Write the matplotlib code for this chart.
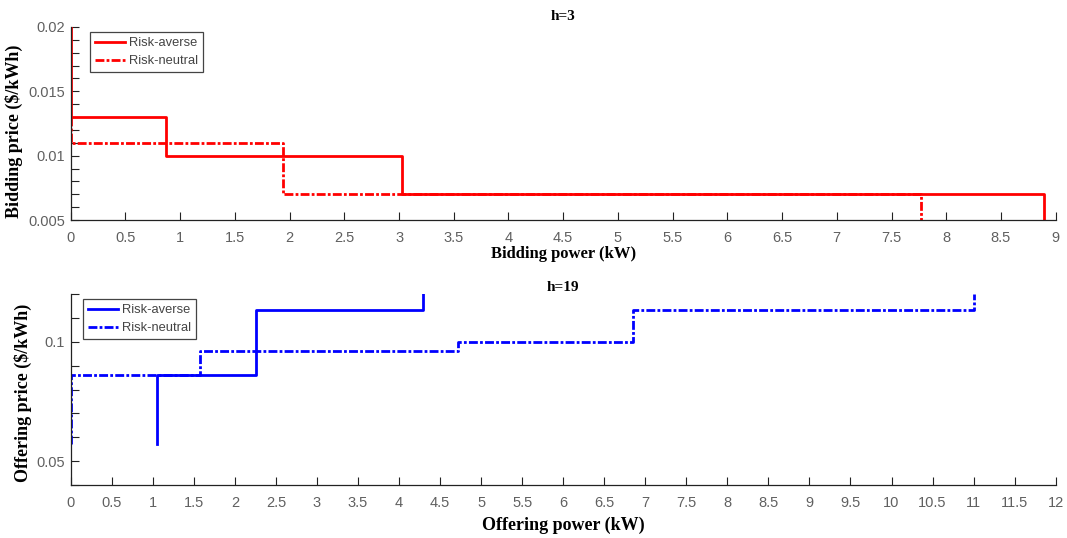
import matplotlib
matplotlib.use("Agg")
import matplotlib.pyplot as plt
from matplotlib.ticker import MultipleLocator

# ---- data (step curves: power breakpoints, price levels) ----
bid_averse_power = [0, 0, 0.87, 0.87, 3.03, 3.03, 8.89, 8.89]
bid_averse_price = [0.020, 0.013, 0.013, 0.010, 0.010, 0.007, 0.007, 0.005]
bid_neutral_power = [0, 0, 1.94, 1.94, 7.77, 7.77]
bid_neutral_price = [0.013, 0.011, 0.011, 0.007, 0.007, 0.005]

off_averse_power = [1.055, 1.055, 2.26, 2.26, 4.29, 4.29]
off_averse_price = [0.057, 0.086, 0.086, 0.1135, 0.1135, 0.120]
off_neutral_power = [0, 0, 1.575, 1.575, 4.72, 4.72, 6.85, 6.85, 11.01, 11.01]
off_neutral_price = [0.057, 0.086, 0.086, 0.096, 0.096, 0.100, 0.100, 0.1132, 0.1132, 0.120]

top_xticks = [0, 0.5, 1, 1.5, 2, 2.5, 3, 3.5, 4, 4.5, 5, 5.5, 6, 6.5, 7, 7.5, 8, 8.5, 9]
top_yticks = [0.005, 0.01, 0.015, 0.02]
bot_xticks = [0, 0.5, 1, 1.5, 2, 2.5, 3, 3.5, 4, 4.5, 5, 5.5, 6, 6.5, 7, 7.5, 8, 8.5, 9, 9.5, 10, 10.5, 11, 11.5, 12]
bot_yticks = [0.05, 0.1]

W, H = 1067, 538
fig = plt.figure(figsize=(W / 100, H / 100), dpi=100)

def rect(l, t, r, b):
    return [l / W, 1 - b / H, (r - l) / W, (b - t) / H]

ax1 = fig.add_axes(rect(70.7, 27, 1055.7, 220))
ax2 = fig.add_axes(rect(70.7, 294, 1055.7, 485))

serif = ['Liberation Serif', 'DejaVu Serif']
sans = ['Liberation Sans', 'DejaVu Sans']
tickcol = '#606060'
dashdot = (0, (3.2, 0.8, 1.0, 0.8))

def style(ax):
    for s in ['top', 'right']:
        ax.spines[s].set_visible(False)
    for s in ['left', 'bottom']:
        ax.spines[s].set_color('#222222')
        ax.spines[s].set_linewidth(0.9)
    ax.tick_params(which='both', direction='in', length=6, width=0.8, color='#222222',
                   labelcolor=tickcol, labelsize=10.5)
    ax.tick_params(axis='x', which='both', pad=8)
    ax.tick_params(axis='y', which='both', pad=4)
    for lab in ax.get_xticklabels() + ax.get_yticklabels():
        lab.set_family(sans)

def legend(ax, x_px, y_px, h_px):
    leg = ax.legend(loc='upper left',
                    bbox_to_anchor=((x_px - 70.7) / 985, 1 - y_px / h_px),
                    prop={'family': sans, 'size': 9.3}, fancybox=False, framealpha=1,
                    edgecolor='#444444', handlelength=2.3, borderpad=0.4, labelspacing=0.45,
                    handletextpad=0.3, borderaxespad=0)
    leg.get_frame().set_linewidth(0.9)
    for t in leg.get_texts():
        t.set_color('#444444')

lw = 2.0
ax1.plot(bid_averse_power, bid_averse_price, color='red', lw=lw, ls='-', label='Risk-averse')
ax1.plot(bid_neutral_power, bid_neutral_price, color='red', lw=lw, ls=dashdot, label='Risk-neutral')
ax1.set_xlim(0, 9)
ax1.set_ylim(0.005, 0.02)
ax1.set_xticks(top_xticks)
ax1.set_xticklabels([f'{v:g}' for v in top_xticks])
ax1.set_yticks(top_yticks)
ax1.set_yticklabels([f'{v:g}' for v in top_yticks])
ax1.yaxis.set_minor_locator(MultipleLocator(0.001))
style(ax1)
ax1.set_xlabel('Bidding power (kW)', family=serif, fontweight='bold', fontsize=12, labelpad=1)
ax1.set_ylabel('Bidding price ($/kWh)', family=serif, fontweight='bold', fontsize=13)
ax1.yaxis.set_label_coords((23 - 70.7) / 985, 0.46)
ax1.set_title('h=3', family=serif, fontweight='bold', fontsize=11, pad=5)
legend(ax1, 90, 32 - 27, 193)

ax2.plot(off_averse_power, off_averse_price, color='blue', lw=lw, ls='-', label='Risk-averse')
ax2.plot(off_neutral_power, off_neutral_price, color='blue', lw=lw, ls=dashdot, label='Risk-neutral')
ax2.set_xlim(0, 12)
ax2.set_ylim(0.04, 0.12)
ax2.set_xticks(bot_xticks)
ax2.set_xticklabels([f'{v:g}' for v in bot_xticks])
ax2.set_yticks(bot_yticks)
ax2.set_yticklabels([f'{v:g}' for v in bot_yticks])
ax2.yaxis.set_minor_locator(MultipleLocator(0.01))
style(ax2)
ax2.set_xlabel('Offering power (kW)', family=serif, fontweight='bold', fontsize=13, labelpad=5)
ax2.set_ylabel('Offering price ($/kWh)', family=serif, fontweight='bold', fontsize=13)
ax2.yaxis.set_label_coords((32 - 70.7) / 985, 0.48)
ax2.set_title('h=19', family=serif, fontweight='bold', fontsize=11, pad=-1)
legend(ax2, 83, 299 - 294, 191)

fig.savefig('out.png', dpi=100)
